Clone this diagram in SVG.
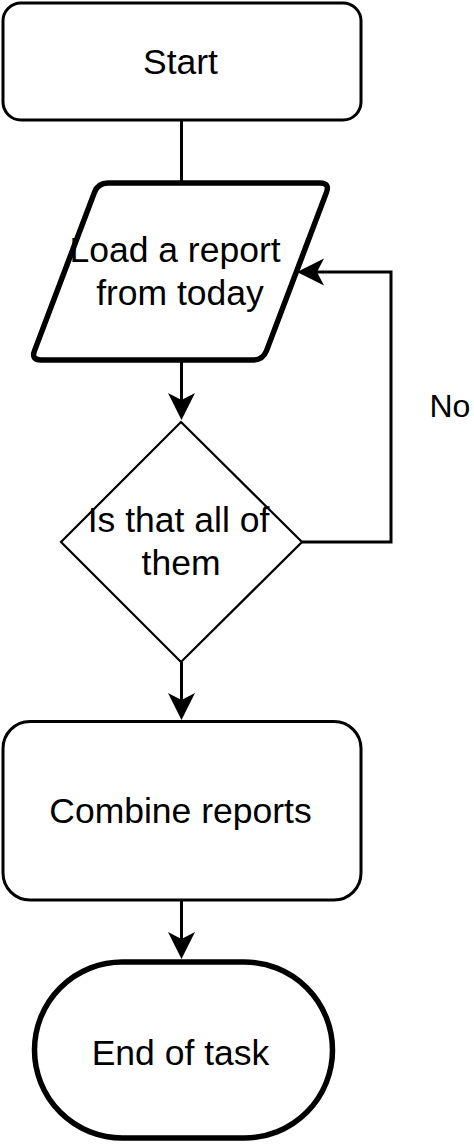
<svg xmlns="http://www.w3.org/2000/svg" width="474" height="1146" viewBox="0 0 474 1146">
  <style>
    .node { fill: #ffffff; stroke: #000000; }
    .thin { stroke-width: 3; }
    .bold { stroke-width: 5.5; }
    .dia { stroke-width: 2.2; }
    .label { font-family: "Liberation Sans", Arial, Helvetica, sans-serif; font-size: 35.5px; fill: #000000; text-anchor: middle; }
    .edge { fill: none; stroke: #000000; stroke-width: 3; }
    .elabel { font-family: "Liberation Sans", Arial, Helvetica, sans-serif; font-size: 32px; fill: #000000; }
  </style>
  <defs>
    <marker id="arrow" markerUnits="userSpaceOnUse" markerWidth="28" markerHeight="28" viewBox="0 0 28 28" refX="7" refY="14" orient="auto">
      <path d="M27,14 L0,0.5 L7,14 L0,27.5 Z" fill="#000000" stroke="none"/>
    </marker>
  </defs>

  <g id="connectors">
    <path class="edge" d="M181.5,120 V183"/>
    <path class="edge" d="M181.5,360 V400" marker-end="url(#arrow)"/>
    <path class="edge" d="M302,542 H391 V272 H317" marker-end="url(#arrow)"/>
    <path class="edge" d="M181.5,662 V700" marker-end="url(#arrow)"/>
    <path class="edge" d="M181.5,900 V939" marker-end="url(#arrow)"/>
    <text id="label-no" class="elabel" x="429.5" y="417">No</text>
  </g>

  <g id="node-start">
    <rect class="node thin" x="3" y="3" width="358" height="117" rx="18" ry="18"/>
    <text class="label" x="180.5" y="74">Start</text>
  </g>

  <g id="node-load">
    <path class="node bold" d="M108,183 L320,183 Q330,183 326.46,192.35 L266.54,350.65 Q263,360 253,360 L41,360 Q31,360 34.54,350.65 L94.46,192.35 Q98,183 108,183 Z"/>
    <text class="label" x="175" y="262">Load a report</text>
    <text class="label" x="180" y="305">from today</text>
  </g>

  <g id="node-check">
    <polygon class="node dia" points="181,422 302,542 181,662 61,542"/>
    <text class="label" x="178.5" y="532">Is that all of</text>
    <text class="label" x="181" y="575">them</text>
  </g>

  <g id="node-combine">
    <rect class="node thin" x="3" y="721.5" width="358" height="178.5" rx="27" ry="27"/>
    <text class="label" x="180.5" y="823">Combine reports</text>
  </g>

  <g id="node-end">
    <rect class="node bold" x="34.5" y="962" width="298" height="176" rx="88" ry="88"/>
    <text class="label" x="180.5" y="1065">End of task</text>
  </g>
</svg>
